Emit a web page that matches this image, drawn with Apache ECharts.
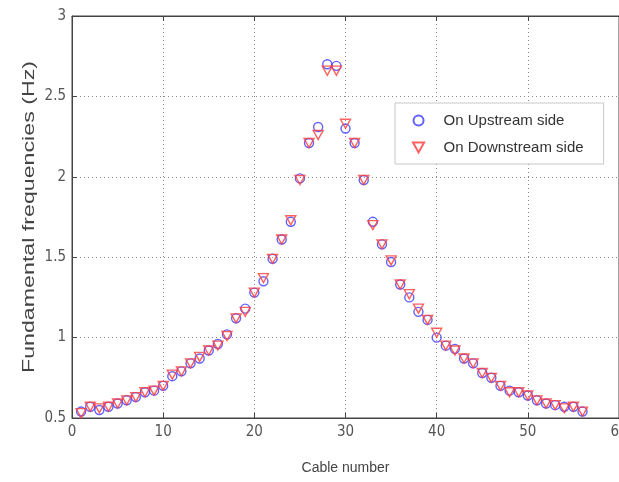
<!DOCTYPE html>
<html>
<head>
<meta charset="utf-8">
<script src="https://cdn.jsdelivr.net/npm/echarts@6/dist/echarts.min.js"></script>
<style>html,body{margin:0;padding:0;background:#fff}#c{width:619px;height:482px}</style>
</head>
<body>
<div id="c"></div>
<script>
var cables = [];
for (var i = 1; i <= 56; i++) cables.push(i);
var upstream = [0.54,0.57,0.55,0.57,0.59,0.61,0.63,0.66,0.67,0.70,
  0.76,0.79,0.84,0.87,0.92,0.96,1.02,1.12,1.18,1.28,
  1.35,1.49,1.61,1.72,1.99,2.21,2.31,2.70,2.69,2.30,
  2.21,1.98,1.72,1.58,1.47,1.33,1.25,1.16,1.11,1.00,
  0.95,0.93,0.87,0.84,0.78,0.75,0.70,0.67,0.66,0.64,
  0.61,0.59,0.58,0.57,0.57,0.54];
var downstream = [0.53,0.57,0.56,0.57,0.59,0.61,0.63,0.66,0.67,0.70,
  0.77,0.79,0.84,0.88,0.92,0.95,1.01,1.12,1.16,1.28,
  1.37,1.49,1.61,1.73,1.98,2.21,2.26,2.66,2.66,2.33,
  2.21,1.98,1.70,1.58,1.48,1.33,1.27,1.18,1.11,1.03,
  0.95,0.92,0.87,0.84,0.78,0.75,0.70,0.66,0.66,0.64,
  0.61,0.59,0.58,0.56,0.57,0.54];
var xTicks = [0,10,20,30,40,50,60];
var yTicks = [0.5,1,1.5,2,2.5,3];
var yTitle = 'Fundamental frequencies (Hz)';
var xTitle = 'Cable number';

function pairs(vals){ return cables.map(function(c,i){ return [c, vals[i]]; }); }

var fontTick = '"DejaVu Sans Condensed", "Liberation Sans Narrow", "Liberation Sans", Arial, sans-serif';
var fontMain = '"Liberation Sans", Arial, sans-serif';
var chart = echarts.init(document.getElementById('c'));
chart.setOption({
  animation: false,
  backgroundColor: '#fff',
  grid: {left: 72, right: 0, top: 16, bottom: 64, show: true, borderColor: '#444', borderWidth: 1,
    containLabel: false, outerBoundsMode: 'none'},
  legend: {
    orient: 'vertical', left: 395, top: 103,
    padding: [10, 20, 9, 17], itemGap: 12, itemWidth: 12, itemHeight: 10,
    borderColor: '#c8c8c8', borderWidth: 1, backgroundColor: '#fff',
    textStyle: {fontFamily: fontMain, fontSize: 15, color: '#333', padding: [0,0,0,14]},
    data: ['On Upstream side', 'On Downstream side']
  },
  graphic: [{
    type: 'text', x: 30, y: 217, rotation: Math.PI / 2, scaleX: 1.45, scaleY: 1,
    style: {text: yTitle, font: '16px ' + fontMain, fill: '#444', align: 'center', verticalAlign: 'middle'}
  }],
  xAxis: [{
    type: 'value', min: 0, max: 60, interval: 10,
    name: xTitle, nameLocation: 'middle', nameGap: 43,
    nameTextStyle: {fontFamily: fontMain, fontSize: 14, color: '#444'},
    axisLine: {lineStyle: {color: '#444'}},
    axisTick: {inside: true, length: 5, lineStyle: {color: '#444'}},
    axisLabel: {fontFamily: fontTick, fontSize: 15, color: '#555', margin: 7},
    splitLine: {show: true, lineStyle: {type: [1, 3], color: '#888'}}
  }, {
    type: 'value', position: 'top', min: 0, max: 60, interval: 10,
    axisLine: {lineStyle: {color: '#444'}},
    axisTick: {inside: true, length: 5, lineStyle: {color: '#444'}},
    axisLabel: {show: false}, splitLine: {show: false}
  }],
  yAxis: [{
    type: 'value', min: 0.5, max: 3, interval: 0.5,
    axisLine: {show: true, lineStyle: {color: '#444'}},
    axisTick: {show: true, inside: true, length: 5, lineStyle: {color: '#444'}},
    axisLabel: {fontFamily: fontTick, fontSize: 15, color: '#555', margin: 6,
      formatter: function(v){ return String(v); }},
    splitLine: {show: true, lineStyle: {type: [1, 3], color: '#888'}}
  }],
  series: [{
    name: 'On Upstream side', type: 'scatter', data: pairs(upstream),
    symbol: 'circle', symbolSize: 9,
    itemStyle: {color: 'rgba(0,0,0,0)', borderColor: '#3a3aff', borderWidth: 1.4}
  }, {
    name: 'On Downstream side', type: 'scatter', data: pairs(downstream),
    symbol: 'path://M0,0 L10,0 L5,9 Z', symbolSize: [10, 9],
    itemStyle: {color: 'rgba(0,0,0,0)', borderColor: '#ff3a3a', borderWidth: 1.4}
  }]
});
</script>
</body>
</html>
